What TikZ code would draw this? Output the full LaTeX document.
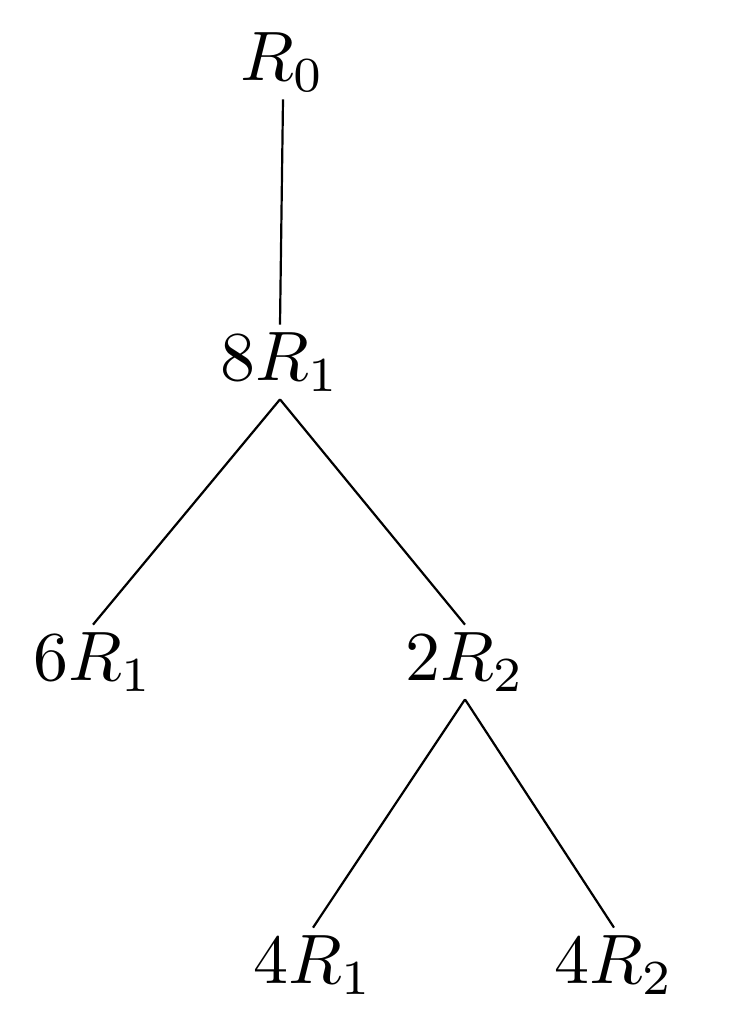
\documentclass[tikz,border=0pt]{standalone}
\begin{document}
\begin{tikzpicture}[x=1pt,y=-1pt,
  lbl/.style={inner sep=8pt},
  edge/.style={line width=2.2pt}]
\useasboundingbox (0,0) rectangle (742,1033);
\newcommand{\bigtxt}[1]{\scalebox{7}{$#1$}}
\node[lbl] (r0) at (283,62) {\bigtxt{R_0}};
\node[lbl] (a) at (280,362) {\bigtxt{8R_1}};
\node[lbl] (b) at (93,662) {\bigtxt{6R_1}};
\node[lbl] (c) at (465,662) {\bigtxt{2R_2}};
\node[lbl] (d) at (313,965) {\bigtxt{4R_1}};
\node[lbl] (e) at (614,965) {\bigtxt{4R_2}};
\draw[edge] (r0.south) -- (a.north);
\draw[edge] (a.south) -- (b.north);
\draw[edge] (a.south) -- (c.north);
\draw[edge] (c.south) -- (d.north);
\draw[edge] (c.south) -- (e.north);
\end{tikzpicture}
\end{document}
